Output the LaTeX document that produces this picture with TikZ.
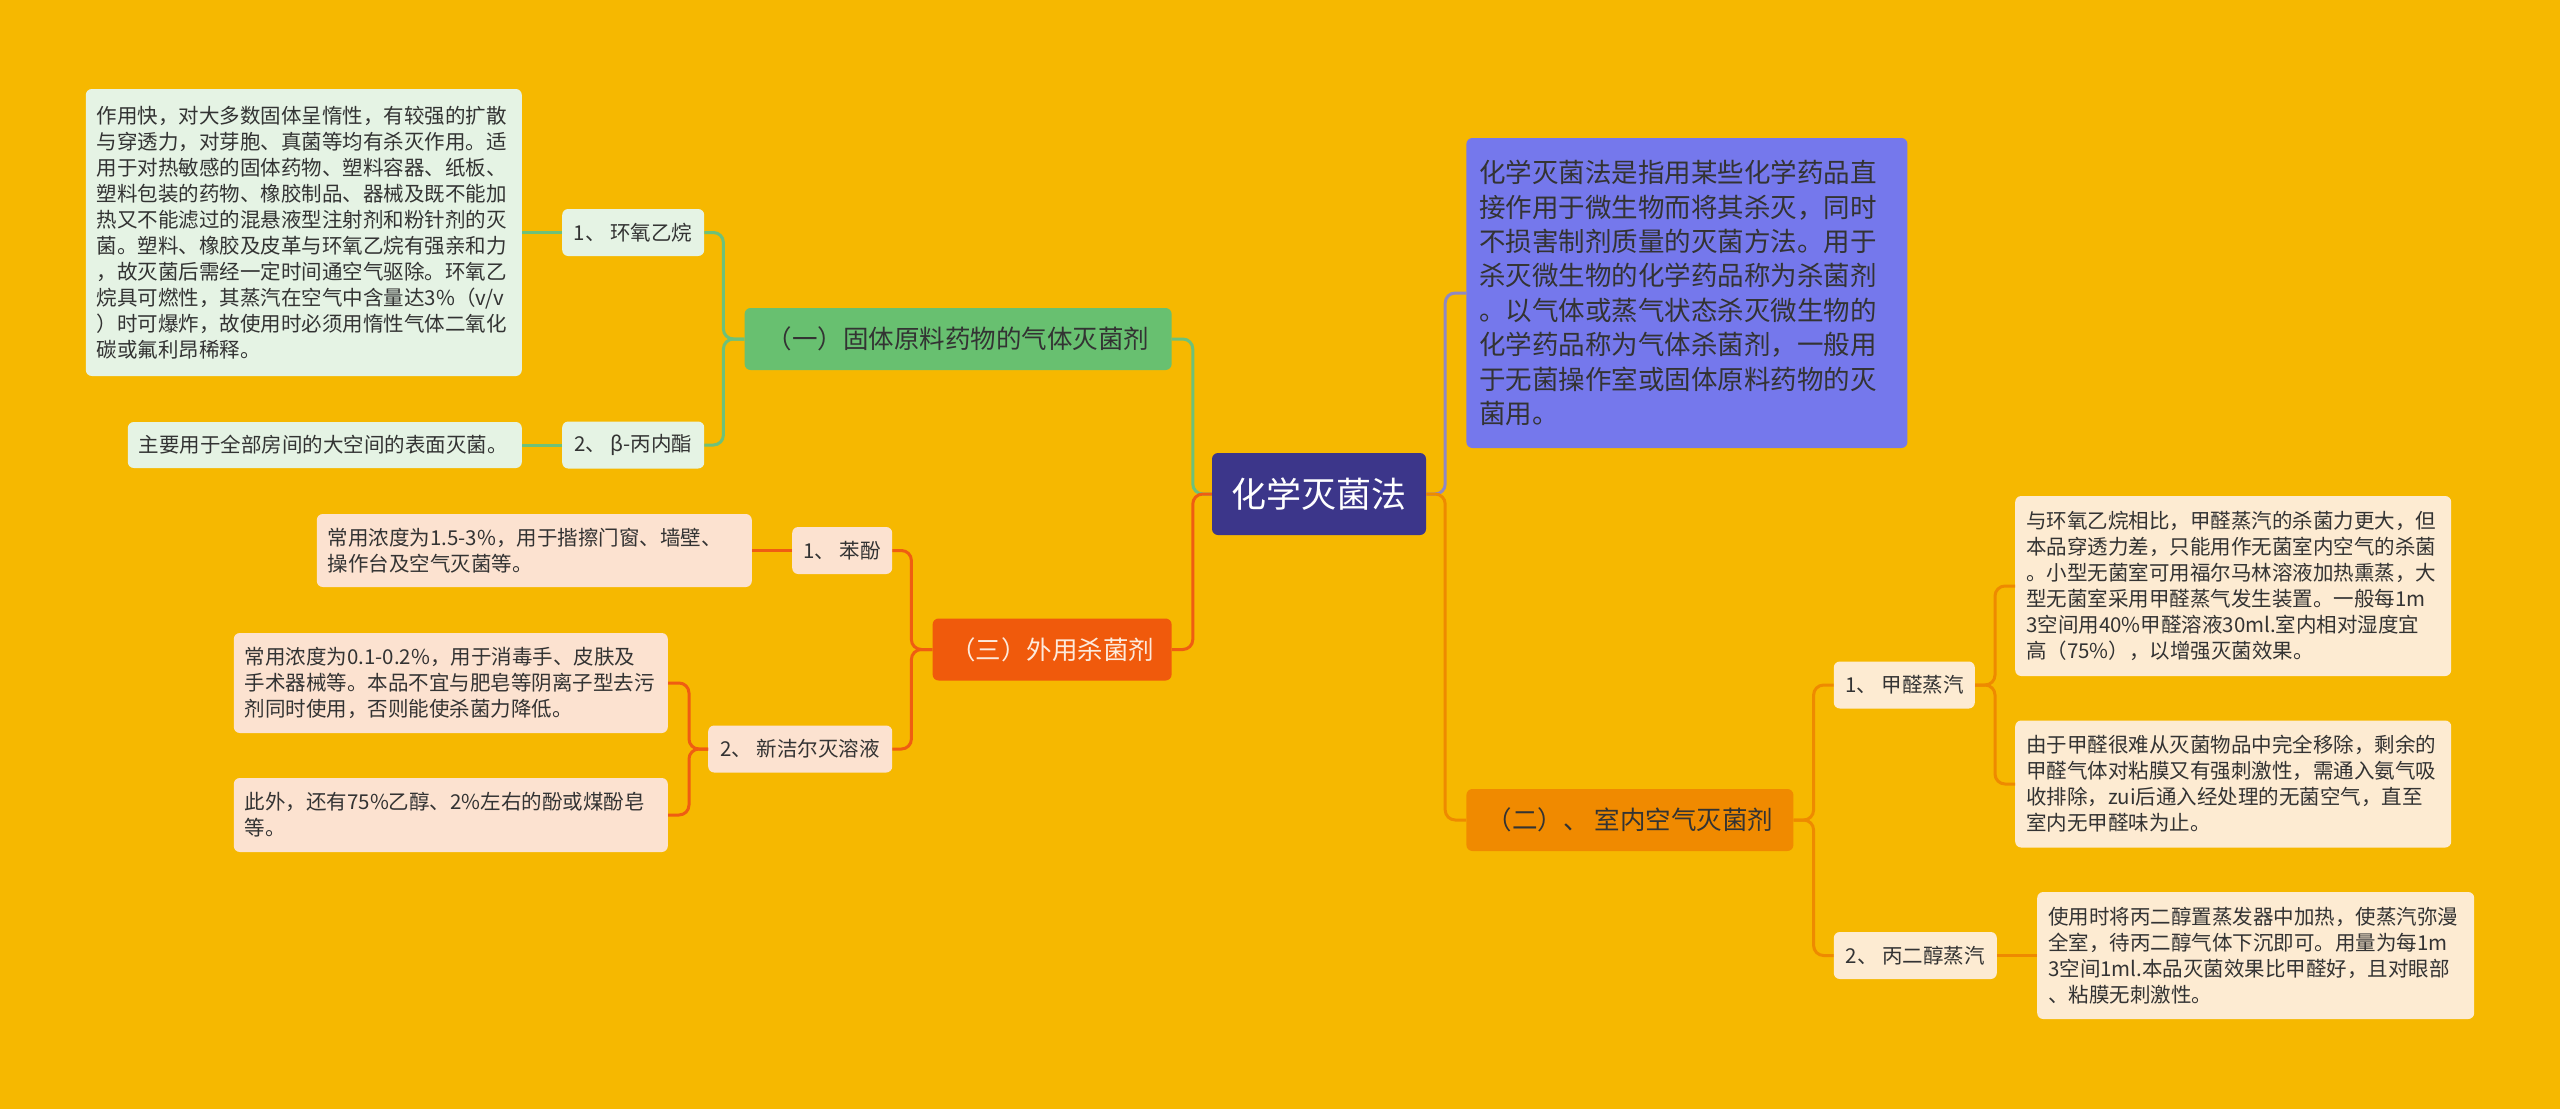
\documentclass[tikz,border=0pt]{standalone}
\usepackage{fontspec}
\setmainfont{Noto Sans CJK SC}
\usepackage{tikz}
\usetikzlibrary{positioning}
\definecolor{bgyellow}{RGB}{246,184,0}
\definecolor{rootblue}{RGB}{60,54,138}
\definecolor{defpurple}{RGB}{117,120,236}
\definecolor{purpleline}{RGB}{142,136,196}
\definecolor{headgreen}{RGB}{104,192,112}
\definecolor{greenline}{RGB}{109,193,122}
\definecolor{lightgreen}{RGB}{229,243,228}
\definecolor{headred}{RGB}{240,90,12}
\definecolor{redline}{RGB}{239,93,18}
\definecolor{lightpeach}{RGB}{252,226,208}
\definecolor{headorange}{RGB}{240,138,0}
\definecolor{orangeline}{RGB}{238,138,0}
\definecolor{lightcream}{RGB}{253,235,210}
\definecolor{textgray}{RGB}{51,51,51}
\definecolor{palepink}{RGB}{253,234,220}
\begin{document}
\begin{tikzpicture}[x=1pt, y=-1pt,
     node distance = 40pt,
  every node/.style = {rectangle, rounded corners=6pt, inner sep=0pt},
      rootbox/.style = {fill=rootblue, text=white, font=\fontsize{35}{42}\selectfont, minimum width=214pt, minimum height=82pt},
      headbox/.style = {font=\fontsize{25.5}{31}\selectfont, text=textgray, minimum height=62pt},
      itembox/.style = {font=\fontsize{20.5}{26}\selectfont, text=textgray, minimum height=47pt},
      notebox/.style = {font=\fontsize{20.5}{26}\selectfont, text=textgray, align=left, inner xsep=11pt, text width=#1},
         link/.style = {line width=3pt, rounded corners=10pt}
                        ]
\fill[bgyellow] (0,0) rectangle (2560,1109);
\useasboundingbox (0,0) rectangle (2560,1109);
\node (root) [rootbox] at (1319,494) {化学灭菌法};
\node (G1) [headbox, fill=headgreen, minimum width=427pt, left=of root, yshift=155pt] {（一）固体原料药物的气体灭菌剂};
\node (R3) [headbox, fill=headred, text=palepink, minimum width=239pt, left=of root, yshift=-155.5pt] {（三）外用杀菌剂};
\node (P) [notebox=415pt, fill=defpurple, inner xsep=13pt, font=\fontsize{26.5}{34.4}\selectfont, minimum height=310pt, right=of root, yshift=201pt]
  {化学灭菌法是指用某些化学药品直\\
   接作用于微生物而将其杀灭，同时\\
   不损害制剂质量的灭菌方法。用于\\
   杀灭微生物的化学药品称为杀菌剂\\
   。以气体或蒸气状态杀灭微生物的\\
   化学药品称为气体杀菌剂，一般用\\
   于无菌操作室或固体原料药物的灭\\
   菌用。};
\node (O2) [headbox, fill=headorange, minimum width=327pt, right=of root, yshift=-326pt] {（二）、 室内空气灭菌剂};
\node (g1) [itembox, fill=lightgreen, minimum width=142pt, left=of G1, yshift=106.5pt] {1、 环氧乙烷};
\node (g2) [itembox, fill=lightgreen, minimum width=142pt, left=of G1, yshift=-106pt] {2、 β-丙内酯};
\node (A1) [notebox=414pt, fill=lightgreen, minimum height=287pt, left=of g1]
  {作用快，对大多数固体呈惰性，有较强的扩散\\
   与穿透力，对芽胞、真菌等均有杀灭作用。适\\
   用于对热敏感的固体药物、塑料容器、纸板、\\
   塑料包装的药物、橡胶制品、器械及既不能加\\
   热又不能滤过的混悬液型注射剂和粉针剂的灭\\
   菌。塑料、橡胶及皮革与环氧乙烷有强亲和力\\
   ，故灭菌后需经一定时间通空气驱除。环氧乙\\
   烷具可燃性，其蒸汽在空气中含量达3\%（v/v\\
   ）时可爆炸，故使用时必须用惰性气体二氧化\\
   碳或氟利昂稀释。};
\node (A2) [notebox=372pt, fill=lightgreen, minimum height=46pt, left=of g2] {主要用于全部房间的大空间的表面灭菌。};
\node (r1) [itembox, fill=lightpeach, minimum width=100pt, left=of R3, yshift=99pt] {1、 苯酚};
\node (r2) [itembox, fill=lightpeach, minimum width=184pt, left=of R3, yshift=-99.5pt] {2、 新洁尔灭溶液};
\node (C1) [notebox=413pt, fill=lightpeach, minimum height=73pt, left=of r1]
  {常用浓度为1.5-3\%，用于揩擦门窗、墙壁、\\
   操作台及空气灭菌等。};
\node (C2) [notebox=412pt, fill=lightpeach, minimum height=100pt, left=of r2, yshift=66pt]
  {常用浓度为0.1-0.2\%，用于消毒手、皮肤及\\
   手术器械等。本品不宜与肥皂等阴离子型去污\\
   剂同时使用，否则能使杀菌力降低。};
\node (C3) [notebox=412pt, fill=lightpeach, minimum height=74pt, left=of r2, yshift=-66pt]
  {此外，还有75\%乙醇、2\%左右的酚或煤酚皂\\
   等。};
\node (o1) [itembox, fill=lightcream, minimum width=141pt, right=of O2, yshift=135pt] {1、 甲醛蒸汽};
\node (o2) [itembox, fill=lightcream, minimum width=163pt, right=of O2, yshift=-135.5pt] {2、 丙二醇蒸汽};
\node (B1) [notebox=414pt, fill=lightcream, minimum height=180pt, right=of o1, yshift=99pt]
  {与环氧乙烷相比，甲醛蒸汽的杀菌力更大，但\\
   本品穿透力差，只能用作无菌室内空气的杀菌\\
   。小型无菌室可用福尔马林溶液加热熏蒸，大\\
   型无菌室采用甲醛蒸气发生装置。一般每1m\\
   3空间用40\%甲醛溶液30ml.室内相对湿度宜\\
   高（75\%），以增强灭菌效果。};
\node (B2) [notebox=414pt, fill=lightcream, minimum height=127pt, right=of o1, yshift=-99pt]
  {由于甲醛很难从灭菌物品中完全移除，剩余的\\
   甲醛气体对粘膜又有强刺激性，需通入氨气吸\\
   收排除，zui后通入经处理的无菌空气，直至\\
   室内无甲醛味为止。};
\node (B3) [notebox=415pt, fill=lightcream, minimum height=127pt, right=of o2]
  {使用时将丙二醇置蒸发器中加热，使蒸汽弥漫\\
   全室，待丙二醇气体下沉即可。用量为每1m\\
   3空间1ml.本品灭菌效果比甲醛好，且对眼部\\
   、粘膜无刺激性。};
\draw[link, greenline] (root.west) -- ++(-19,0) |- (G1.east);
\draw[link, redline] (root.west) -- ++(-19,0) |- (R3.east);
\draw[link, purpleline] (root.east) -- ++(19,0) |- (P.west);
\draw[link, orangeline] (root.east) -- ++(19,0) |- (O2.west);
\draw[link, greenline] (G1.west) -- ++(-21,0) |- (g1.east);
\draw[link, greenline] (G1.west) -- ++(-21,0) |- (g2.east);
\draw[link, greenline] (g1) -- (A1);
\draw[link, greenline] (g2) -- (A2);
\draw[link, redline] (R3.west) -- ++(-21,0) |- (r1.east);
\draw[link, redline] (R3.west) -- ++(-21,0) |- (r2.east);
\draw[link, redline] (r1) -- (C1);
\draw[link, redline] (r2.west) -- ++(-19,0) |- (C2.east);
\draw[link, redline] (r2.west) -- ++(-19,0) |- (C3.east);
\draw[link, orangeline] (O2.east) -- ++(20,0) |- (o1.west);
\draw[link, orangeline] (O2.east) -- ++(20,0) |- (o2.west);
\draw[link, orangeline] (o1.east) -- ++(20,0) |- (B1.west);
\draw[link, orangeline] (o1.east) -- ++(20,0) |- (B2.west);
\draw[link, orangeline] (o2) -- (B3);
\end{tikzpicture}
\end{document}
